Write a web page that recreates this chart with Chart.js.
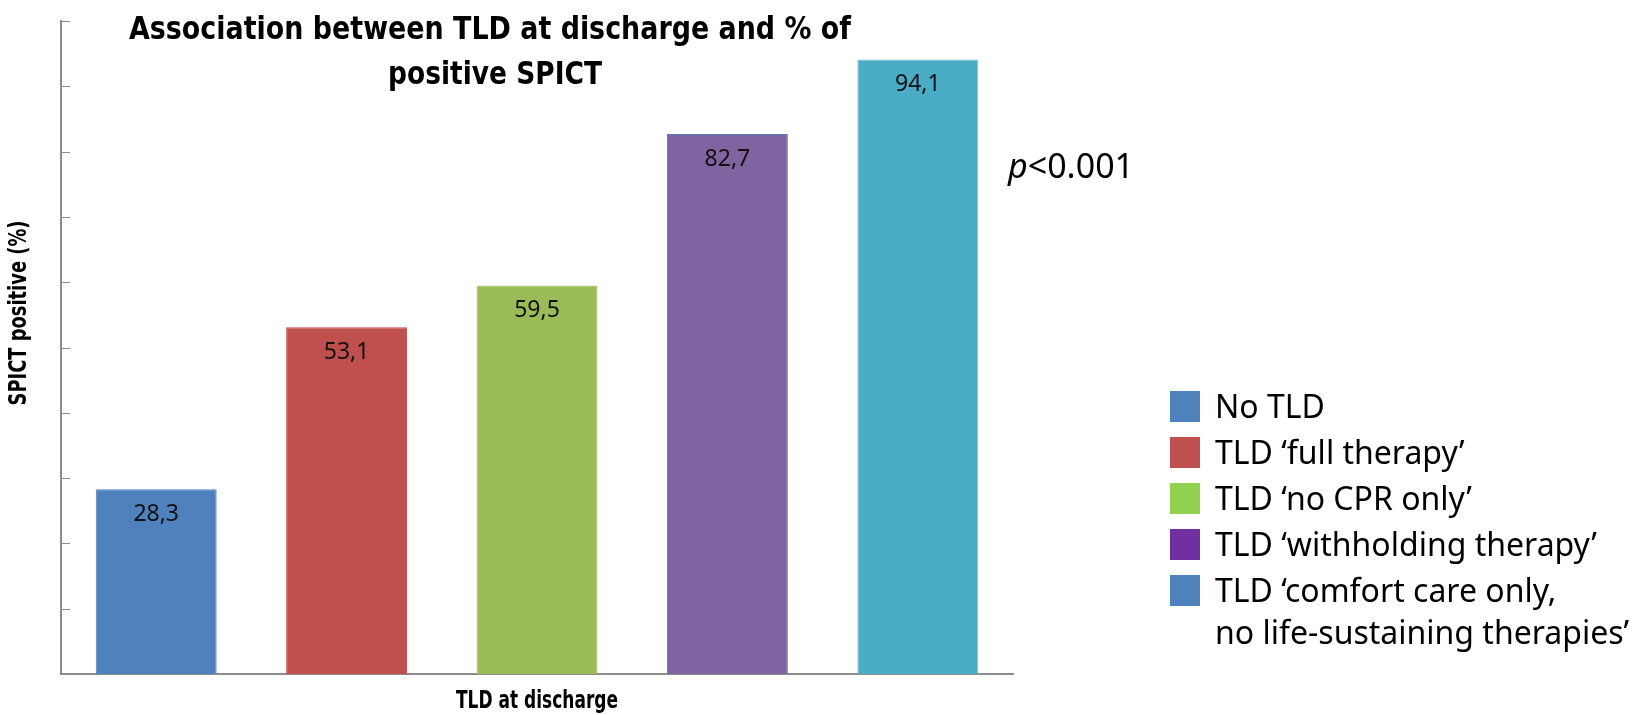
<!DOCTYPE html>
<html>
<head>
<meta charset="utf-8">
<script src="https://cdn.jsdelivr.net/npm/chart.js@4.4.1/dist/chart.umd.min.js"></script>
<style>
  html, body { margin: 0; padding: 0; background: #fff; }
  #wrap { position: relative; width: 1650px; height: 715px; }
  #legend {
    position: absolute; left: 1170px; top: 391px;
    font-family: 'Noto Sans', sans-serif; font-size: 32px; color: #000;
  }
  #legend .item { display: flex; align-items: flex-start; height: 46px; }
  #legend .item:last-child { height: auto; }
  #legend .box { width: 30px; height: 31px; margin-right: 15px; flex: none; }
  #legend .txt { line-height: 42px; margin-top: -6px; white-space: nowrap; }
</style>
</head>
<body>
<div id="wrap">
  <canvas id="tldChart" width="1650" height="715"></canvas>
  <div id="legend"></div>
</div>
<script>
const categories = ['No TLD', 'TLD full therapy', 'TLD no CPR only', 'TLD withholding therapy', 'TLD comfort care only'];
const spictPositive = [28.3, 53.1, 59.5, 82.7, 94.1];
const barColors = ['#4F81BD', '#C0504D', '#9BBB59', '#8064A2', '#4BACC6'];
const barBorders = ['#4F81BD', '#C0504D', '#9BBB59', '#4F81BD', '#6CC0D6'];
const legendLabels = [
  ['No TLD'],
  ['TLD ‘full therapy’'],
  ['TLD ‘no CPR only’'],
  ['TLD ‘withholding therapy’'],
  ['TLD ‘comfort care only,', 'no life-sustaining therapies’']
];
const legendColors = ['#4F81BD', '#C0504D', '#92D050', '#7030A0', '#4F81BD'];
const yMin = 0, yMax = 100, yStep = 10;
const titleLines = ['Association between TLD at discharge and % of', 'positive SPICT'];
const yTitle = 'SPICT positive (%)';
const xTitle = 'TLD at discharge';
const pValue = ['p', '<0.001'];

const boldNarrow = "'DejaVu Sans Condensed', 'DejaVu Sans', sans-serif";
const plain = "'Noto Sans', sans-serif";

// draw text squeezed or stretched to a given width
function fitText(ctx, text, cx, cy, width) {
  const w = ctx.measureText(text).width;
  ctx.save();
  ctx.translate(cx, cy);
  ctx.scale(width / w, 1);
  ctx.fillText(text, 0, 0);
  ctx.restore();
}

// value labels inside the top of each bar
const barLabels = {
  id: 'barLabels',
  afterDatasetsDraw(chart) {
    const ctx = chart.ctx;
    const meta = chart.getDatasetMeta(0);
    ctx.save();
    ctx.font = '23px ' + plain;
    ctx.fillStyle = '#111';
    ctx.textAlign = 'center';
    ctx.textBaseline = 'middle';
    meta.data.forEach((bar, i) => {
      const v = chart.data.datasets[0].data[i];
      ctx.fillText(v.toFixed(1).replace('.', ','), bar.x, bar.y + 25);
    });
    ctx.restore();
  }
};

// inward tick marks on the y axis
const innerTicks = {
  id: 'innerTicks',
  afterDraw(chart) {
    const ctx = chart.ctx;
    const y = chart.scales.y;
    ctx.save();
    ctx.strokeStyle = '#8c8c8c';
    ctx.lineWidth = 1;
    y.ticks.forEach(t => {
      const py = Math.round(y.getPixelForValue(t.value)) + 0.5;
      ctx.beginPath();
      ctx.moveTo(y.right, py);
      ctx.lineTo(y.right + 9, py);
      ctx.stroke();
    });
    ctx.restore();
  }
};

// titles and the p value
const texts = {
  id: 'texts',
  afterDraw(chart) {
    const ctx = chart.ctx;
    const a = chart.chartArea;
    ctx.save();
    ctx.fillStyle = '#000';
    ctx.textBaseline = 'middle';
    ctx.textAlign = 'center';
    ctx.font = 'bold 32px ' + boldNarrow;
    fitText(ctx, titleLines[0], 490, 31, 722);
    fitText(ctx, titleLines[1], 495, 76, 214);

    ctx.font = 'bold 24px ' + boldNarrow;
    fitText(ctx, xTitle, (a.left + a.right) / 2, 702, 162);
    ctx.save();
    ctx.translate(20, 313);
    ctx.rotate(-Math.PI / 2);
    fitText(ctx, yTitle, 0, 0, 185);
    ctx.restore();

    ctx.textAlign = 'left';
    ctx.font = 'italic 34px ' + plain;
    ctx.fillText(pValue[0], 1008, 168);
    const w = ctx.measureText(pValue[0]).width;
    ctx.font = '34px ' + plain;
    ctx.fillText(pValue[1], 1008 + w, 168);
    ctx.restore();
  }
};

const chart = new Chart(document.getElementById('tldChart'), {
  type: 'bar',
  data: {
    labels: categories,
    datasets: [{
      data: spictPositive,
      backgroundColor: barColors,
      borderColor: barBorders,
      borderWidth: 1,
      barPercentage: 0.635,
      categoryPercentage: 1
    }]
  },
  options: {
    responsive: false,
    animation: false,
    layout: { padding: { left: 61, right: 637, top: 21, bottom: 41 } },
    scales: {
      x: {
        ticks: { display: false },
        grid: { display: false, drawTicks: false },
        border: { color: '#8c8c8c', width: 2 }
      },
      y: {
        min: yMin, max: yMax,
        ticks: { display: false, stepSize: yStep },
        grid: { display: false, drawTicks: false },
        border: { color: '#8c8c8c', width: 2 }
      }
    },
    plugins: {
      legend: { display: false },
      tooltip: { enabled: false }
    }
  },
  plugins: [barLabels, innerTicks, texts]
});

const legendEl = document.getElementById('legend');
legendLabels.forEach((lines, i) => {
  const row = document.createElement('div');
  row.className = 'item';
  const box = document.createElement('div');
  box.className = 'box';
  box.style.background = legendColors[i];
  const txt = document.createElement('div');
  txt.className = 'txt';
  txt.innerHTML = lines.join('<br>');
  row.appendChild(box);
  row.appendChild(txt);
  legendEl.appendChild(row);
});
</script>
</body>
</html>
